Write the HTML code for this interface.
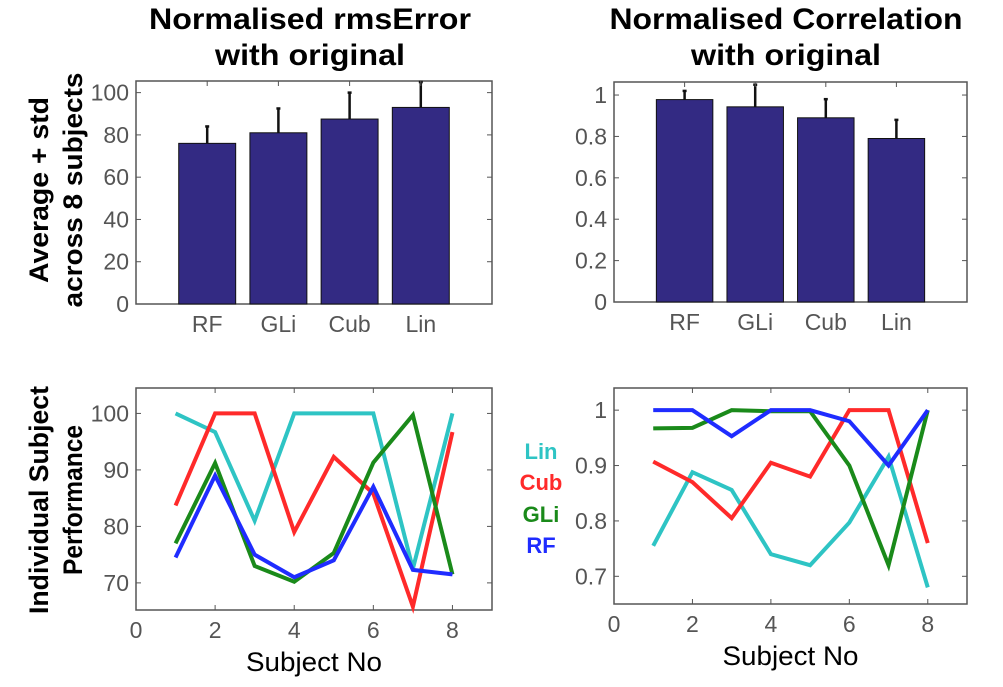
<!DOCTYPE html>
<html><head><meta charset="utf-8"><style>
body{margin:0;background:#fff;}
svg{display:block;font-family:"Liberation Sans",sans-serif;}
</style></head><body>
<svg id="c" width="1003" height="687"></svg>
<script>
const barCats = ["RF","GLi","Cub","Lin"];
const rmsMean = [76, 81, 87.5, 93];
const rmsStd = [8, 11.5, 12.5, 12];
const corMean = [0.978, 0.943, 0.89, 0.79];
const corStd = [0.042, 0.107, 0.09, 0.09];
const subjects = [1,2,3,4,5,6,7,8];
const rmsLin = [100, 96.7, 81, 100, 100, 100, 72.5, 100];
const rmsCub = [83.7, 100, 100, 79, 92.3, 85.8, 65.8, 96.7];
const rmsGLi = [77, 91.2, 73, 70.2, 75.3, 91.3, 99.7, 71.5];
const rmsRF = [74.5, 89, 75, 71, 74, 87, 72.3, 71.5];
const corLin = [0.755, 0.888, 0.856, 0.74, 0.72, 0.797, 0.916, 0.68];
const corCub = [0.907, 0.87, 0.805, 0.905, 0.88, 1, 1, 0.76];
const corGLi = [0.967, 0.968, 1, 0.998, 0.998, 0.9, 0.72, 1];
const corRF = [1, 1, 0.953, 1, 1, 0.98, 0.9, 1];
const rmsBarTicks = [0,20,40,60,80,100];
const corBarTicks = ["0","0.2","0.4","0.6","0.8","1"];
const rmsLineTicks = [70,80,90,100];
const corLineTicks = ["0.7","0.8","0.9","1"];
const xTicks = [0,2,4,6,8];

const svg = document.getElementById('c');
const NS = "http://www.w3.org/2000/svg";
function mk(tag, attrs, parent){
  const e = document.createElementNS(NS, tag);
  for (const k in attrs) e.setAttribute(k, attrs[k]);
  (parent||svg).appendChild(e); return e;
}
function txt(s, x, y, size, opts){
  const t = mk('text', Object.assign({x:x, y:y, 'font-size':size, fill:'#555', 'text-anchor':'middle'}, opts||{}));
  t.textContent = s; return t;
}
function axes(L,R,T,B,xmin,xmax,ymin,ymax,name){
  const g = mk('g', {});
  
  
  mk('rect',{x:L,y:T,width:R-L,height:B-T,fill:'#fff',stroke:'#555','stroke-width':1.5},g);
  return {g:g, sx:v=>L+(v-xmin)/(xmax-xmin)*(R-L), sy:v=>B-(v-ymin)/(ymax-ymin)*(B-T), L,R,T,B};
}
function yTicks(a, vals, labels){
  vals.forEach((v,i)=>{
    const y=a.sy(v);
    mk('line',{x1:a.L,x2:a.L+5,y1:y,y2:y,stroke:'#555'},a.g);
    mk('line',{x1:a.R,x2:a.R-5,y1:y,y2:y,stroke:'#555'},a.g);
    const t=txt(labels[i], a.L-7, y+8, 23, {'text-anchor':'end'});
    
    
  });
}
function barChart(L,R,T,B,ymax,means,stds,tickVals,tickLabels,name){
  const a = axes(L,R,T,B,0,5,0,ymax,name);
  yTicks(a, tickVals, tickLabels);
  means.forEach((m,i)=>{
    const cx=a.sx(i+1), w=a.sx(0.4)-a.sx(0);
    mk('line',{x1:cx,x2:cx,y1:a.sy(m),y2:a.sy(m+stds[i]),stroke:'#111','stroke-width':2.5},a.g);
    mk('line',{x1:cx-2,x2:cx+2,y1:a.sy(m+stds[i]),y2:a.sy(m+stds[i]),stroke:'#111','stroke-width':2.5},a.g);
    const r=mk('rect',{x:cx-w,y:a.sy(m),width:2*w,height:a.sy(0)-a.sy(m),fill:'#332a83',stroke:'#111','stroke-width':1},a.g);
    
    
    mk('line',{x1:cx,x2:cx,y1:T,y2:T+5,stroke:'#555'},a.g);
    const t=txt(barCats[i], cx, B+28, 23);
    
    
  });
}
function lineChart(L,R,T,B,ymin,ymax,series,tickVals,tickLabels,name){
  const a = axes(L,R,T,B,0,9,ymin,ymax,name);
  yTicks(a, tickVals, tickLabels);
  xTicks.forEach(v=>{
    const x=a.sx(v);
    mk('line',{x1:x,x2:x,y1:B,y2:B-5,stroke:'#555'},a.g);
    mk('line',{x1:x,x2:x,y1:T,y2:T+5,stroke:'#555'},a.g);
    const t=txt(String(v), x, B+28, 23);
    
    
  });
  series.forEach(s=>{
    const pts=subjects.map((x,i)=>a.sx(x)+','+a.sy(s.v[i])).join(' ');
    const p=mk('polyline',{points:pts,fill:'none',stroke:s.c,'stroke-width':4,'stroke-linejoin':'miter'},a.g);
    
    
  });
  const xl=txt('Subject No',(L+R)/2,B+61,27,{fill:'#000',textLength:136,lengthAdjust:'spacingAndGlyphs'});
  
  
}
function title(l1,l2,cx,w1,name){
  const t=txt(l1,cx,29,30,{fill:'#000','font-weight':'bold',textLength:w1,lengthAdjust:'spacingAndGlyphs'});
  
  
  const t2=txt(l2,cx,65,30,{fill:'#000','font-weight':'bold',textLength:190,lengthAdjust:'spacingAndGlyphs'});
  
  
}
title('Normalised rmsError','with original',310,322,'rms-title');
title('Normalised Correlation','with original',786,353,'corr-title');
barChart(136,492,81,304,105.5,rmsMean,rmsStd,rmsBarTicks,rmsBarTicks.map(String),'rms-bar-chart');
barChart(614,967,82,302,1.063,corMean,corStd,corBarTicks.map(Number),corBarTicks,'corr-bar-chart');
lineChart(136,492,388,610,65.2,104.5,[
  {n:'lin',c:'#2ec4c4',v:rmsLin},{n:'cub',c:'#ff2a2a',v:rmsCub},{n:'gli',c:'#1a8a1a',v:rmsGLi},{n:'rf',c:'#1f2cff',v:rmsRF}
],rmsLineTicks,rmsLineTicks.map(String),'rms-line-chart');
lineChart(614,967,388,604,0.65,1.04,[
  {n:'lin',c:'#2ec4c4',v:corLin},{n:'cub',c:'#ff2a2a',v:corCub},{n:'gli',c:'#1a8a1a',v:corGLi},{n:'rf',c:'#1f2cff',v:corRF}
],corLineTicks.map(Number),corLineTicks,'corr-line-chart');
function ylab(lines,lens,cy,name){
  lines.forEach((s,i)=>{
    const x=48+i*34;
    const t=txt(s,x,cy,27,{fill:'#000','font-weight':'bold',textLength:lens[i],lengthAdjust:'spacingAndGlyphs',transform:'rotate(-90 '+x+' '+cy+')'});
    
    
  });
}
ylab(['Average + std','across 8 subjects'],[186,235],190,'y-axis-title-top');
ylab(['Individual Subject','Performance'],[228,150],500,'y-axis-title-bottom');
[['Lin','#2ec4c4',459],['Cub','#ff2a2a',490],['GLi','#1a8a1a',522],['RF','#1f2cff',553]].forEach(l=>{
  const t=txt(l[0],541,l[2],22,{fill:l[1],'font-weight':'bold'});
  
  
});
</script>
</body></html>
